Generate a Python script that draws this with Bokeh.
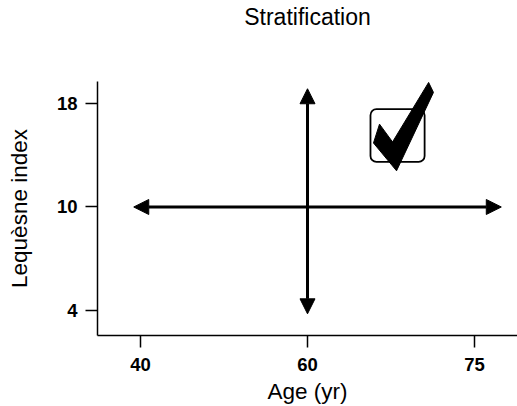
from bokeh.plotting import figure
from bokeh.models import Arrow, NormalHead, BoxAnnotation, FixedTicker, Range1d
from bokeh.embed import file_html
from bokeh.resources import INLINE

# ---- data -------------------------------------------------------------
title_text = "Stratification"
x_label = "Age (yr)"
y_label = "Lequèsne index"

# the axes are not linear: each labelled tick sits at an equally spaced position
age_ticks = [40, 60, 75]
age_pos = [0, 1, 2]
lequesne_ticks = [4, 10, 18]
lequesne_pos = [0, 1, 2]

# double-headed arrows (axis-position units)
h_arrow_x = [-0.04, 2.16]
h_arrow_y = 1          # Lequesne index 10
v_arrow_x = 1          # Age 60
v_arrow_y = [-0.03, 2.14]

# check mark and its rounded box (axis-position units)
check_x = [1.431, 1.509, 1.725, 1.754, 1.533, 1.395]
check_y = [1.799, 1.627, 2.201, 2.105, 1.349, 1.617]
box_lr = [1.377, 1.701]
box_bt = [1.435, 1.943]

FONT = "Liberation Sans"

# two blank lines under the title lift it towards the top of the canvas
p = figure(width=517, height=406, output_backend="svg", toolbar_location=None,
           x_range=Range1d(-0.257, 2.257), y_range=Range1d(-0.239, 2.21),
           min_border_left=97, min_border_right=0, min_border_top=81,
           min_border_bottom=69, title=title_text + "\n \n ")
p.outline_line_color = None
p.grid.visible = False
p.background_fill_color = "white"
p.border_fill_color = "white"

p.title.align = "center"
p.title.text_font = FONT
p.title.text_font_size = "23px"
p.title.text_line_height = 1.0
p.title.text_font_style = "normal"
p.title.text_color = "black"
p.title.standoff = 0

for ax, pos, ticks, lab in ((p.xaxis[0], age_pos, age_ticks, x_label),
                            (p.yaxis[0], lequesne_pos, lequesne_ticks, y_label)):
    ax.ticker = FixedTicker(ticks=pos)
    ax.major_label_overrides = {pp: str(t) for pp, t in zip(pos, ticks)}
    ax.axis_label = lab
    ax.axis_label_text_font = FONT
    ax.axis_label_text_font_size = "22.5px"
    ax.axis_label_text_font_style = "normal"
    ax.axis_label_text_color = "black"
    ax.major_label_text_font = FONT
    ax.major_label_text_font_size = "18.5px"
    ax.major_label_text_font_style = "bold"
    ax.major_label_text_color = "black"
    ax.major_tick_out = 12
    ax.major_tick_in = 0
    ax.minor_tick_line_color = None
    ax.axis_line_width = 1.5
    ax.major_tick_line_width = 1.5
    ax.axis_line_color = "black"
    ax.major_tick_line_color = "black"

p.xaxis.major_label_standoff = 10
p.xaxis.axis_label_standoff = 5
p.yaxis.major_label_standoff = 8
p.yaxis.axis_label_standoff = 22

# rounded box behind check mark
p.add_layout(BoxAnnotation(left=box_lr[0], right=box_lr[1], bottom=box_bt[0], top=box_bt[1],
                           fill_alpha=0, line_color="black", line_alpha=1, line_width=1.8,
                           border_radius=6, level="underlay"))

# arrows
def head():
    return NormalHead(size=15, fill_color="black", line_color="black", line_width=1)

p.add_layout(Arrow(x_start=h_arrow_x[0], x_end=h_arrow_x[1], y_start=h_arrow_y, y_end=h_arrow_y,
                   start=head(), end=head(), line_width=3, line_color="black"))
p.add_layout(Arrow(x_start=v_arrow_x, x_end=v_arrow_x, y_start=v_arrow_y[0], y_end=v_arrow_y[1],
                   start=head(), end=head(), line_width=3, line_color="black"))

# check mark
p.patch(check_x, check_y, fill_color="black", line_color="black", line_width=1)

open("out.html", "w").write(file_html(p, INLINE))
